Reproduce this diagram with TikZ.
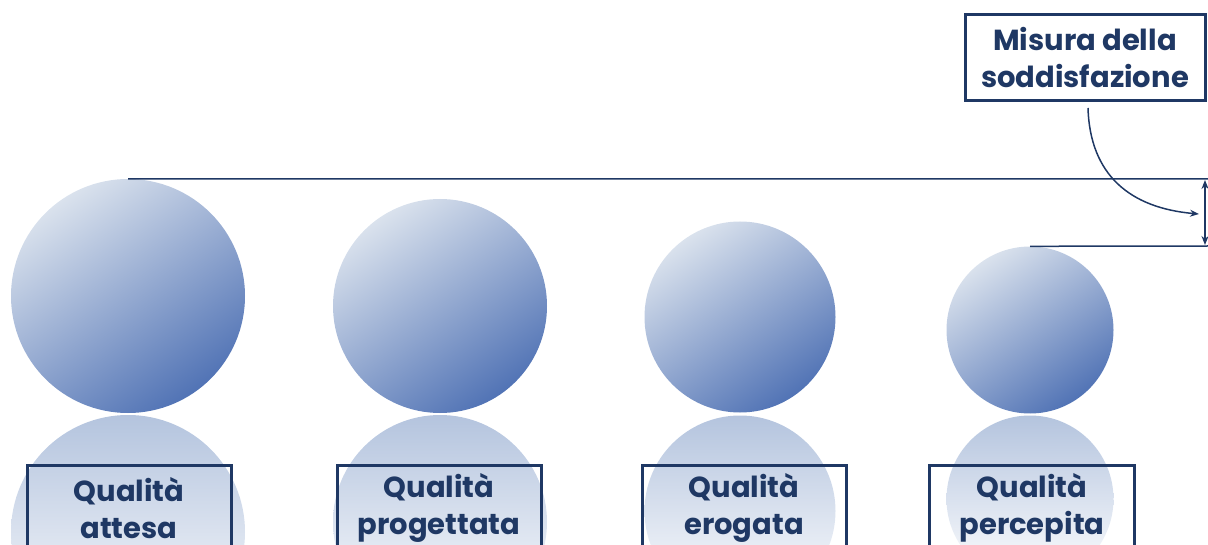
\documentclass[tikz,border=0pt]{standalone}
\usepackage{fontspec}
\setmainfont{Poppins}
\usetikzlibrary{arrows.meta}
\definecolor{navy}{HTML}{1F3864}
\definecolor{ballL}{HTML}{DAE2ED}
\definecolor{ballM}{HTML}{B3C3DD}
\definecolor{ballD}{HTML}{5173B5}
\definecolor{refl}{HTML}{B4C4DE}
\tikzset{
  ball/.style={circle, inner sep=0pt, draw=none, top color=ballL, middle color=ballM, bottom color=ballD, shading angle=35},
  mirror/.style={circle, inner sep=0pt, draw=none, top color=refl, middle color=white, bottom color=white},
  lbl/.style={draw=navy, line width=3pt, text=navy, align=center, inner sep=0pt,
    font=\fontsize{29}{37}\selectfont\bfseries, minimum height=86pt},
  conn/.style={draw=navy, line width=1.5pt},
  tip/.style={-{Stealth[length=9pt,width=7pt]}}
}
\begin{document}
\begin{tikzpicture}[x=1pt,y=-1pt]
\useasboundingbox (0,0) rectangle (1208,545);
\clip (0,0) rectangle (1208,545);
% reflections
\node[mirror, minimum size=234pt] (m1) at (128,532) {};
\node[mirror, minimum size=214pt] (m2) at (440,522) {};
\node[mirror, minimum size=191pt] (m3) at (740,511) {};
\node[mirror, minimum size=167pt] (m4) at (1030,499) {};
% balls
\node[ball, minimum size=234pt] (c1) at (128,296) {};
\node[ball, minimum size=214pt] (c2) at (440,306) {};
\node[ball, minimum size=191pt] (c3) at (740,317) {};
\node[ball, minimum size=167pt] (c4) at (1030,330) {};
% labels
\node[lbl, minimum width=204pt] (b1) at (129,508) {Qualità\\attesa};
\node[lbl, minimum width=204pt] (b2) at (439,508) {Qualità\\progettata};
\node[lbl, minimum width=204pt] (b3) at (744,508) {Qualità\\erogata};
\node[lbl, minimum width=205pt] (b4) at (1032,508) {Qualità\\percepita};
\node[lbl, minimum width=240pt] (ms) at (1085,58) {Misura della\\soddisfazione};
% connectors
\coordinate (r1) at (1208,179);
\coordinate (r2) at (1208,246);
\coordinate (v1) at (1205,180);
\coordinate (v2) at (1205,245);
\coordinate (as) at (1088,108);
\coordinate (ae) at (1199,214);
\draw[conn] (c1.north) -- (r1);
\draw[conn] (c4.north) -- (r2);
\draw[conn, {Stealth[length=9pt,width=7pt]}-{Stealth[length=9pt,width=7pt]}] (v1) -- (v2);
\draw[conn, tip] (as) .. controls (1090,175) and (1130,208) .. (ae);
\end{tikzpicture}
\end{document}
